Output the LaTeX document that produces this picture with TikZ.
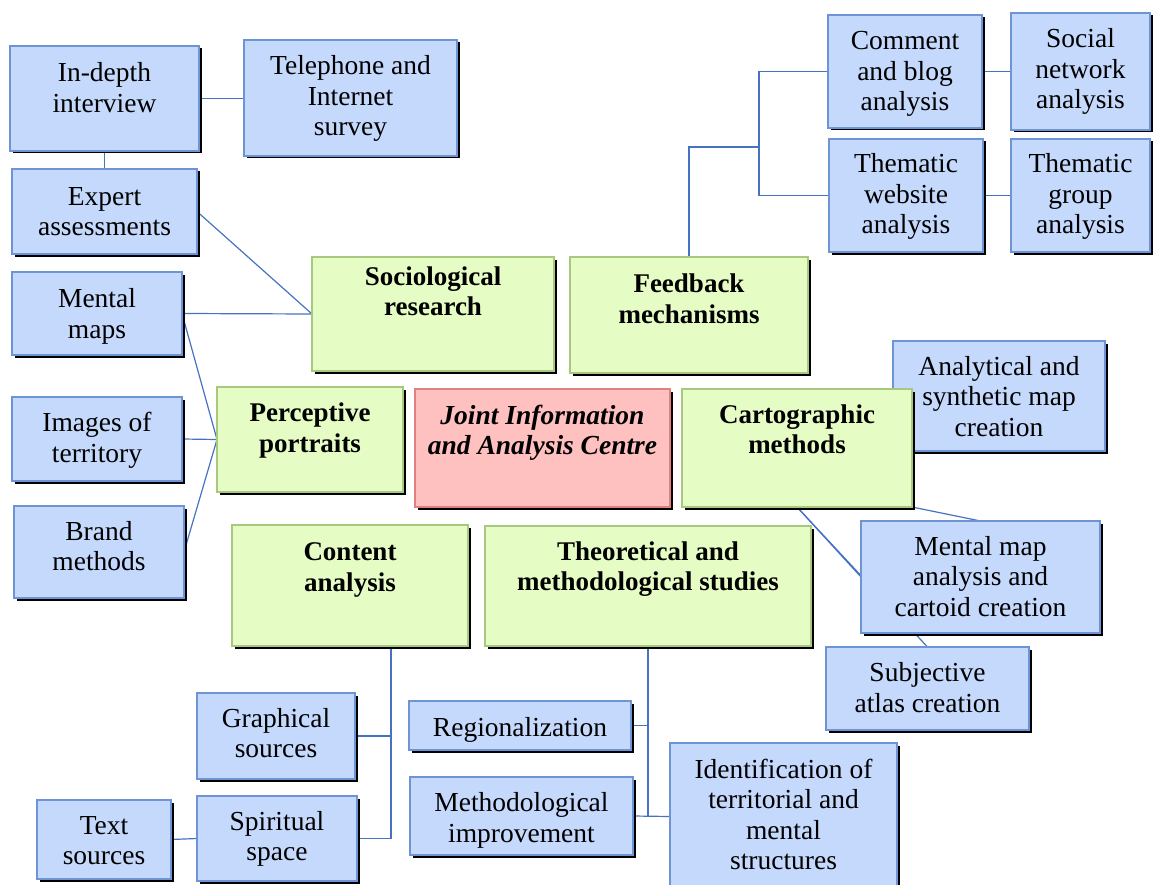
\documentclass[tikz,border=0pt]{standalone}
\usepackage{fontspec}
\setmainfont{Liberation Serif}
\usetikzlibrary{shadows,backgrounds}
\definecolor{bfill}{RGB}{197,217,252}
\definecolor{bdraw}{RGB}{110,148,214}
\definecolor{gfill}{RGB}{229,252,196}
\definecolor{gdraw}{RGB}{168,200,128}
\definecolor{pfill}{RGB}{255,192,192}
\definecolor{pdraw}{RGB}{224,128,128}
\definecolor{lineblue}{RGB}{70,114,196}
\newcommand\bxt[4]{\parbox[c][#2pt][t]{#1pt}{\centering\vspace*{\dimexpr#3pt-\ht\strutbox\relax}\strut#4\par}}
\tikzset{
  basebox/.style={draw, line width=1.2pt, inner sep=0pt, outer sep=0pt, anchor=north west,
    drop shadow={shadow xshift=2.5pt, shadow yshift=-2.5pt, fill=black, opacity=1},
    font=\fontsize{27.5}{30.5}\selectfont},
  bbox/.style={basebox, draw=bdraw, fill=bfill},
  gbox/.style={basebox, draw=gdraw, fill=gfill, font=\fontsize{27}{30.5}\selectfont\bfseries},
  pbox/.style={basebox, draw=pdraw, fill=pfill, font=\fontsize{27.5}{30.5}\selectfont\bfseries\itshape},
  conn/.style={draw=lineblue, line width=1.2pt}
}
\begin{document}
\begin{tikzpicture}[x=1pt,y=-1pt]
\useasboundingbox (0,0) rectangle (1158,885);
\node[bbox] (indepth) at (10,46) {\bxt{189}{105}{36}{In-depth\\interview}};
\node[bbox] (tel) at (244,40) {\bxt{213}{116}{35}{Telephone and\\Internet\\survey}};
\node[bbox] (expert) at (12,169) {\bxt{185}{85}{36.5}{Expert\\assessments}};
\node[bbox] (mental) at (12,272) {\bxt{170}{83}{35.5}{Mental\\maps}};
\node[bbox] (images) at (12,397) {\bxt{170}{84}{34.5}{Images of\\territory}};
\node[bbox] (brand) at (14,506) {\bxt{170}{92}{34}{Brand\\methods}};
\node[gbox] (socio) at (312,257) {\bxt{242}{114}{28}{Sociological\\research}};
\node[gbox] (percep) at (217,387) {\bxt{186}{105}{34.5}{Perceptive\\portraits}};
\node[pbox] (centre) at (415,389) {\bxt{255}{118}{35}{Joint Information\\and Analysis Centre}};
\node[gbox] (feedback) at (570,257) {\bxt{238}{116}{35.5}{Feedback\\mechanisms}};
\node[bbox] (analyt) at (893,341) {\bxt{212}{110}{34}{Analytical and\\synthetic map\\creation}};
\node[gbox] (carto) at (682,389) {\bxt{230}{118}{34}{Cartographic\\methods}};
\node[bbox] (comment) at (828,15) {\bxt{154}{113}{35}{Comment\\and blog\\analysis}};
\node[bbox] (social) at (1011,13) {\bxt{139}{117}{35}{Social\\network\\analysis}};
\node[bbox] (tweb) at (829,139) {\bxt{154}{113}{34}{Thematic\\website\\analysis}};
\node[bbox] (tgroup) at (1011,139) {\bxt{139}{113}{34}{Thematic\\group\\analysis}};
\node[gbox] (content) at (232,525) {\bxt{236}{121}{35.5}{Content\\analysis}};
\node[gbox] (theo) at (485,526) {\bxt{326}{120}{34}{Theoretical and\\methodological studies}};
\node[bbox] (mma) at (861,521) {\bxt{239}{112}{34}{Mental map\\analysis and\\cartoid creation}};
\node[bbox] (subj) at (826,647) {\bxt{203}{83}{34.5}{Subjective\\atlas creation}};
\node[bbox] (graph) at (197,693) {\bxt{158}{86}{34}{Graphical\\sources}};
\node[bbox] (spirit) at (197,796) {\bxt{160}{85}{34}{Spiritual\\space}};
\node[bbox] (textsrc) at (37,800) {\bxt{134}{79}{34}{Text\\sources}};
\node[bbox] (regio) at (409,701) {\bxt{222}{49}{35.5}{Regionalization}};
\node[bbox] (methimp) at (410,777) {\bxt{223}{78}{34.5}{Methodological\\improvement}};
\node[bbox] (ident) at (670,743) {\bxt{227}{147}{35}{Identification of\\territorial and\\mental\\structures}};
\coordinate (fbj) at (759,147);
\coordinate (cbus) at ([xshift=41pt]content.south);
\begin{pgfonlayer}{background}
\draw[conn] (indepth.east) -- (indepth.east -| tel.west);
\draw[conn] (indepth.south) -- (expert.north);
\draw[conn] (expert.east) -- (socio.west);
\draw[conn] (mental.east) -- (socio.west);
\draw[conn] (mental.east) -- (percep.west);
\draw[conn] (images.east) -- (percep.west);
\draw[conn] (brand.east) -- (percep.west);
\draw[conn] (feedback.north) |- (fbj);
\draw[conn] (comment.west) -| (fbj);
\draw[conn] (tweb.west) -| (fbj);
\draw[conn] (comment.east) -- (social.west);
\draw[conn] (tweb.east) -- (tgroup.west);
\draw[conn] (carto.south) -- (mma.west);
\draw[conn] (carto.south) -- (subj.north);
\draw[conn] (carto.south east) -- (mma.north);
\draw[conn] (cbus) |- (spirit.east);
\draw[conn] (graph.east) -- (graph.east -| cbus);
\draw[conn] (textsrc.east) -- (spirit.west);
\draw[conn] (theo.south) -- (theo.south |- methimp.east);
\draw[conn] (methimp.east) -- (ident.west);
\draw[conn] (regio.east) -- (regio.east -| theo.south);
\end{pgfonlayer}
\end{tikzpicture}
\end{document}
